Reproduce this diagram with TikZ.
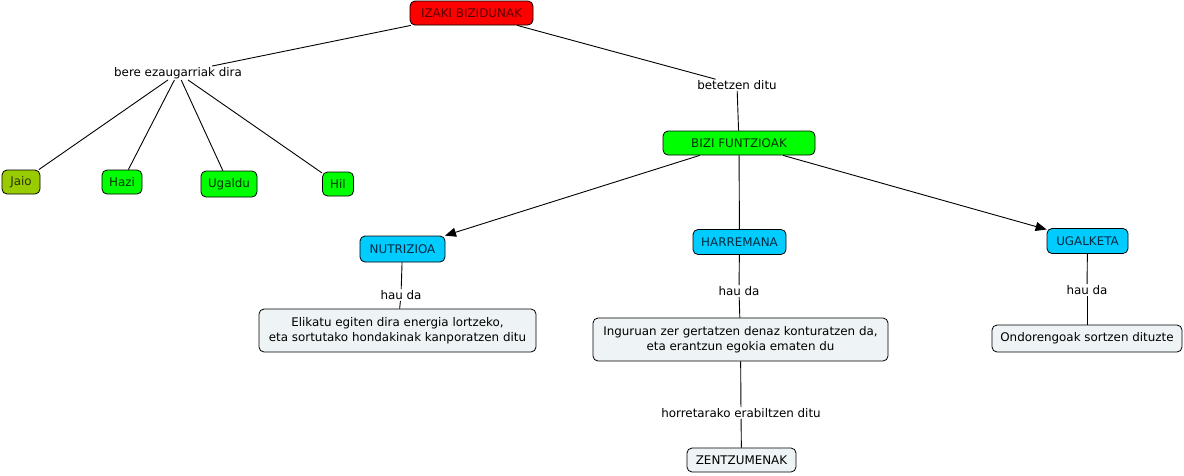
\documentclass[tikz,border=0pt]{standalone}
\usepackage{fontspec}
\setmainfont{DejaVu Sans}
\usetikzlibrary{arrows.meta}
\definecolor{cred}{HTML}{FF0000}
\definecolor{tred}{HTML}{5A0000}
\definecolor{cgreen}{HTML}{00FF00}
\definecolor{tgreen}{HTML}{003300}
\definecolor{colive}{HTML}{99CC00}
\definecolor{tolive}{HTML}{2A3300}
\definecolor{ccyan}{HTML}{00CCFF}
\definecolor{tcyan}{HTML}{002B40}
\definecolor{cpale}{HTML}{EEF3F5}
\tikzset{
  concept/.style={draw=black, line width=0.8pt, rounded corners=5pt, inner sep=2pt, align=center, font=\fontsize{11.9}{14.5}\selectfont},
  redbox/.style={concept, fill=cred, text=tred},
  greenbox/.style={concept, fill=cgreen, text=tgreen},
  olivebox/.style={concept, fill=colive, text=tolive},
  cyanbox/.style={concept, fill=ccyan, text=tcyan},
  palebox/.style={concept, fill=cpale, text=black},
  linklabel/.style={inner sep=1pt, text=black, font=\fontsize{11.9}{14.5}\selectfont},
  conn/.style={draw=black, line width=0.9pt},
  arr/.style={conn, -{Triangle[length=11pt,width=9pt]}}
}
\begin{document}
\begin{tikzpicture}[x=1pt,y=-1pt]
\useasboundingbox (0,0) rectangle (1184,475);
% concepts
\node[redbox, minimum width=123pt, minimum height=24pt] (izaki) at (471.5,13) {IZAKI BIZIDUNAK};
\node[olivebox, minimum width=38pt, minimum height=24pt] (jaio) at (21,182) {Jaio};
\node[greenbox, minimum width=40pt, minimum height=24pt] (hazi) at (122,182) {Hazi};
\node[greenbox, minimum width=56pt, minimum height=26pt] (ugaldu) at (229,184) {Ugaldu};
\node[greenbox, minimum width=31pt, minimum height=24pt] (hil) at (338,184) {Hil};
\node[greenbox, minimum width=152pt, minimum height=24pt] (bizi) at (739,143) {BIZI FUNTZIOAK};
\node[cyanbox, minimum width=85pt, minimum height=26pt] (nutri) at (402.5,249) {NUTRIZIOA};
\node[cyanbox, minimum width=93pt, minimum height=25pt] (harre) at (739.5,242) {HARREMANA};
\node[cyanbox, minimum width=81pt, minimum height=25pt] (ugalk) at (1087.5,241) {UGALKETA};
\node[palebox, minimum width=277pt, minimum height=43pt] (elik) at (397.5,330.5) {Elikatu egiten dira energia lortzeko,\\eta sortutako hondakinak kanporatzen ditu};
\node[palebox, minimum width=295pt, minimum height=43pt] (ingur) at (740.5,339.5) {Inguruan zer gertatzen denaz konturatzen da,\\eta erantzun egokia ematen du};
\node[palebox, minimum width=190pt, minimum height=27pt] (ondor) at (1087,338.5) {Ondorengoak sortzen dituzte};
\node[palebox, minimum width=109pt, minimum height=24pt] (zentz) at (741.5,460) {ZENTZUMENAK};
% linking phrases
\node[linklabel] (bere) at (178,73) {bere ezaugarriak dira};
\node[linklabel] (betet) at (737,85) {betetzen ditu};
\node[linklabel] (haua) at (401,295) {hau da};
\node[linklabel] (haub) at (739,291) {hau da};
\node[linklabel] (hauc) at (1087,290) {hau da};
\node[linklabel] (horre) at (741,413) {horretarako erabiltzen ditu};
% connectors
\draw[conn] (izaki) -- (bere);
\draw[conn] (bere) -- (jaio);
\draw[conn] (bere) -- (hazi);
\draw[conn] (bere) -- (ugaldu);
\draw[conn] (bere) -- (hil);
\draw[conn] (izaki) -- (betet);
\draw[conn] (betet) -- (bizi);
\draw[arr] (bizi) -- (nutri);
\draw[conn] (bizi) -- (harre);
\draw[arr] (bizi) -- (ugalk);
\draw[conn] (nutri) -- (haua);
\draw[conn] (haua) -- (elik);
\draw[conn] (harre) -- (haub);
\draw[conn] (haub) -- (ingur);
\draw[conn] (ugalk) -- (hauc);
\draw[conn] (hauc) -- (ondor);
\draw[conn] (ingur) -- (horre);
\draw[conn] (horre) -- (zentz);
\end{tikzpicture}
\end{document}
